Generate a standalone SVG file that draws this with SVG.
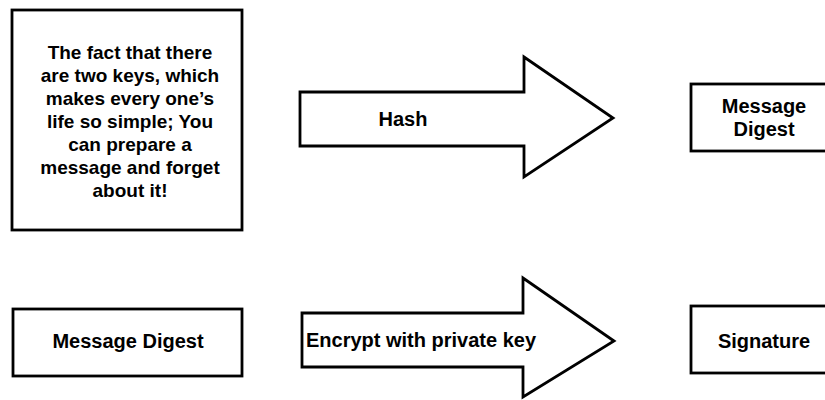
<svg xmlns="http://www.w3.org/2000/svg" width="825" height="400" viewBox="0 0 825 400">
<style>
.box{fill:#fff;stroke:#000;stroke-width:2.8}
.arrow{fill:#fff;stroke:#000;stroke-width:2.8;stroke-linejoin:miter}
.t{font-family:"Liberation Sans",Arial,sans-serif;font-weight:bold;font-size:20px;fill:#000;text-anchor:middle}
.s{font-size:19px}
</style>
<rect width="825" height="400" fill="#fff"/>
<g id="node-fact">
<rect class="box" x="12" y="10" width="230" height="220"/>
<text class="t s" x="130" y="59">The fact that there</text>
<text class="t s" x="130" y="82">are two keys, which</text>
<text class="t s" x="130" y="105">makes every one’s</text>
<text class="t s" x="130" y="128">life so simple; You</text>
<text class="t s" x="130" y="151">can prepare a</text>
<text class="t s" x="130" y="174">message and forget</text>
<text class="t s" x="130" y="197">about it!</text>
</g>
<g id="node-digest-top">
<rect class="box" x="691" y="84" width="140" height="67"/>
<text class="t" x="764" y="113">Message</text>
<text class="t" x="764" y="136">Digest</text>
</g>
<g id="node-digest-bottom">
<rect class="box" x="13" y="309" width="229" height="67"/>
<text class="t" x="128" y="348">Message Digest</text>
</g>
<g id="node-signature">
<rect class="box" x="691" y="306" width="140" height="67"/>
<text class="t" x="764" y="348">Signature</text>
</g>
<g id="connectors">
<g id="arrow-hash">
<path class="arrow" d="M300,92 H524 V57 L613,118 L524,177 V146 H300 Z"/>
<text class="t" x="403" y="126">Hash</text>
</g>
<g id="arrow-encrypt">
<path class="arrow" d="M302,313 H523 V278 L614,341 L523,397 V367 H302 Z"/>
<text class="t" x="421" y="347">Encrypt with private key</text>
</g>
</g>
</svg>
